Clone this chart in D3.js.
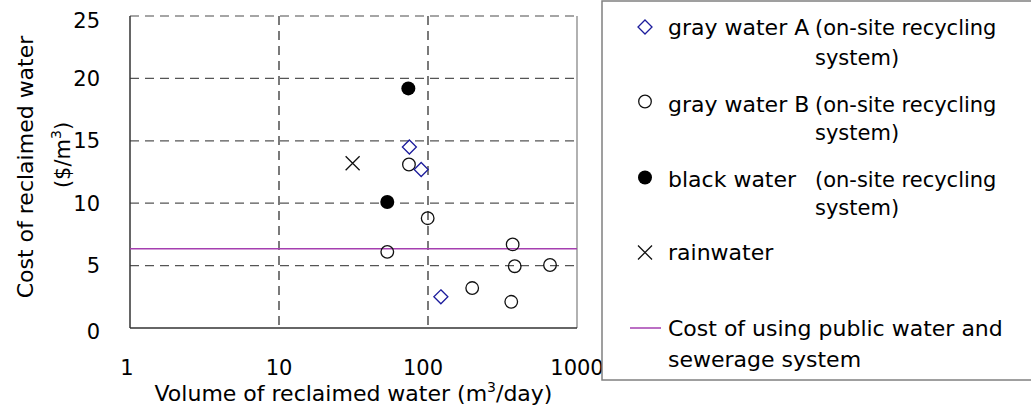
<!DOCTYPE html>
<html><head><meta charset="utf-8">
<script src="https://cdn.jsdelivr.net/npm/d3@7"></script>
<style>body{margin:0;background:#fff;} svg{display:block;} text{font-family:"DejaVu Sans",sans-serif;fill:#000;}</style>
</head><body><svg id="c" width="1031" height="410"></svg>
<script>
// ---- data ----
const grayA_x = [75, 90, 122];
const grayA_y = [14.5, 12.7, 2.5];
const grayB_x = [74.5, 99.5, 53.3, 370, 382, 198, 362, 659];
const grayB_y = [13.1, 8.8, 6.1, 6.7, 4.95, 3.2, 2.1, 5.05];
const black_x = [73.8, 53.3];
const black_y = [19.2, 10.1];
const rain_x = [31.2];
const rain_y = [13.2];
const publicCost = 6.35;
const xTicks = [1, 10, 100, 1000];
const yTicks = [0, 5, 10, 15, 20, 25];
const legendLabels = ["gray water A", "gray water B", "black water", "rainwater", "Cost of using public water and"];

const svg = d3.select("#c");
const L = 130, R = 577, T = 16, B = 328;
const x = d3.scaleLog().domain([1, 1000]).range([L, R]);
const y = d3.scaleLinear().domain([0, 25]).range([B, T]);
const blue = "#1c1c9c", purple = "#a53fb0";

// grid
const g = svg.append("g");
g.selectAll(".hg").data(yTicks.filter(d => d > 0)).join("line")
  .attr("x1", L).attr("x2", R).attr("y1", d => y(d)).attr("y2", d => y(d))
  .attr("stroke", d => d === 25 ? "#888" : "#555").attr("stroke-width", 1.3).attr("stroke-dasharray", "9,6");
g.selectAll(".vg").data([10, 100]).join("line")
  .attr("x1", d => x(d)).attr("x2", d => x(d)).attr("y1", T).attr("y2", B)
  .attr("stroke", "#333").attr("stroke-width", 1.3).attr("stroke-dasharray", "9,6");
// borders
svg.append("line").attr("x1", R).attr("x2", R).attr("y1", T).attr("y2", B).attr("stroke", "#888").attr("stroke-width", 1.3);
svg.append("line").attr("x1", L).attr("x2", L).attr("y1", T).attr("y2", B).attr("stroke", "#333").attr("stroke-width", 1.5);
svg.append("line").attr("x1", L).attr("x2", R).attr("y1", B).attr("y2", B).attr("stroke", "#333").attr("stroke-width", 1.5);

// public cost line
svg.append("line").attr("x1", L).attr("x2", R).attr("y1", y(publicCost)).attr("y2", y(publicCost))
  .attr("stroke", purple).attr("stroke-width", 1.5);

// tick labels
svg.selectAll(".yt").data(yTicks).join("text")
  .attr("x", 100).attr("y", d => y(d) + (d === 25 ? 5 : d === 0 ? 4 : 0)).attr("dy", "0.35em")
  .attr("text-anchor", "end").attr("font-size", 21).text(d => d);
svg.selectAll(".xt").data(xTicks).join("text")
  .attr("x", d => x(d) - (d === 1 ? 3 : d === 100 ? 5 : 0)).attr("y", 375)
  .attr("text-anchor", "middle").attr("font-size", 21).text(d => d);

// axis titles
const xt = svg.append("text").attr("x", (L + R) / 2).attr("y", 401).attr("text-anchor", "middle").attr("font-size", 22);
xt.append("tspan").text("Volume of reclaimed water (m");
xt.append("tspan").attr("font-size", 14).attr("dy", -9).text("3");
xt.append("tspan").attr("dy", 9).text("/day)");

svg.append("text").attr("transform", "translate(33,167) rotate(-90)").attr("text-anchor", "middle").attr("font-size", 22)
  .text("Cost of reclaimed water");
const yt2 = svg.append("text").attr("transform", "translate(70,155) rotate(-90)").attr("text-anchor", "middle").attr("font-size", 21);
yt2.append("tspan").text("($/m");
yt2.append("tspan").attr("font-size", 14).attr("dy", -9).text("3");
yt2.append("tspan").attr("dy", 9).text(")");

// markers
function diamond(sel, cx, cy) {
  sel.append("path").attr("d", `M${cx},${cy-7}L${cx+7},${cy}L${cx},${cy+7}L${cx-7},${cy}Z`)
    .attr("fill", "none").attr("stroke", blue).attr("stroke-width", 1.3);
}
function openC(sel, cx, cy) {
  sel.append("circle").attr("cx", cx).attr("cy", cy).attr("r", 6.3).attr("fill", "none").attr("stroke", "#111").attr("stroke-width", 1.3);
}
function filledC(sel, cx, cy) {
  sel.append("circle").attr("cx", cx).attr("cy", cy).attr("r", 7).attr("fill", "#000");
}
function cross(sel, cx, cy) {
  const s = 7;
  sel.append("path").attr("d", `M${cx-s},${cy-s}L${cx+s},${cy+s}M${cx-s},${cy+s}L${cx+s},${cy-s}`)
    .attr("stroke", "#111").attr("stroke-width", 1.3).attr("fill", "none");
}
const m = svg.append("g");
grayB_x.forEach((v, i) => openC(m, x(v), y(grayB_y[i])));
grayA_x.forEach((v, i) => diamond(m, x(v), y(grayA_y[i])));
black_x.forEach((v, i) => filledC(m, x(v), y(black_y[i])));
rain_x.forEach((v, i) => cross(m, x(v), y(rain_y[i])));

// legend
const lg = svg.append("g");
lg.append("rect").attr("x", 602).attr("y", 1).attr("width", 440).attr("height", 379)
  .attr("fill", "#fff").attr("stroke", "#808080").attr("stroke-width", 1.5);
const mx = 645, tx = 668, px = 815, fs = 22, fsp = 21;
diamond(lg, mx, 27);
openC(lg, mx, 101.5);
filledC(lg, mx, 177.5);
cross(lg, mx, 252.5);
lg.append("line").attr("x1", 630).attr("x2", 661).attr("y1", 328).attr("y2", 328).attr("stroke", purple).attr("stroke-width", 1.5);
const rows = [[35, 65], [112, 140], [187, 215]];
rows.forEach((r, i) => {
  lg.append("text").attr("x", tx).attr("y", r[0]).attr("font-size", fs).text(legendLabels[i]);
  lg.append("text").attr("x", px).attr("y", r[0]).attr("font-size", fsp).text("(on-site recycling");
  lg.append("text").attr("x", px).attr("y", r[1]).attr("font-size", fsp).text("system)");
});
lg.append("text").attr("x", tx).attr("y", 260).attr("font-size", fs).text(legendLabels[3]);
lg.append("text").attr("x", tx).attr("y", 336).attr("font-size", fs).text(legendLabels[4]);
lg.append("text").attr("x", tx).attr("y", 367).attr("font-size", fs).text("sewerage system");
</script></body></html>
